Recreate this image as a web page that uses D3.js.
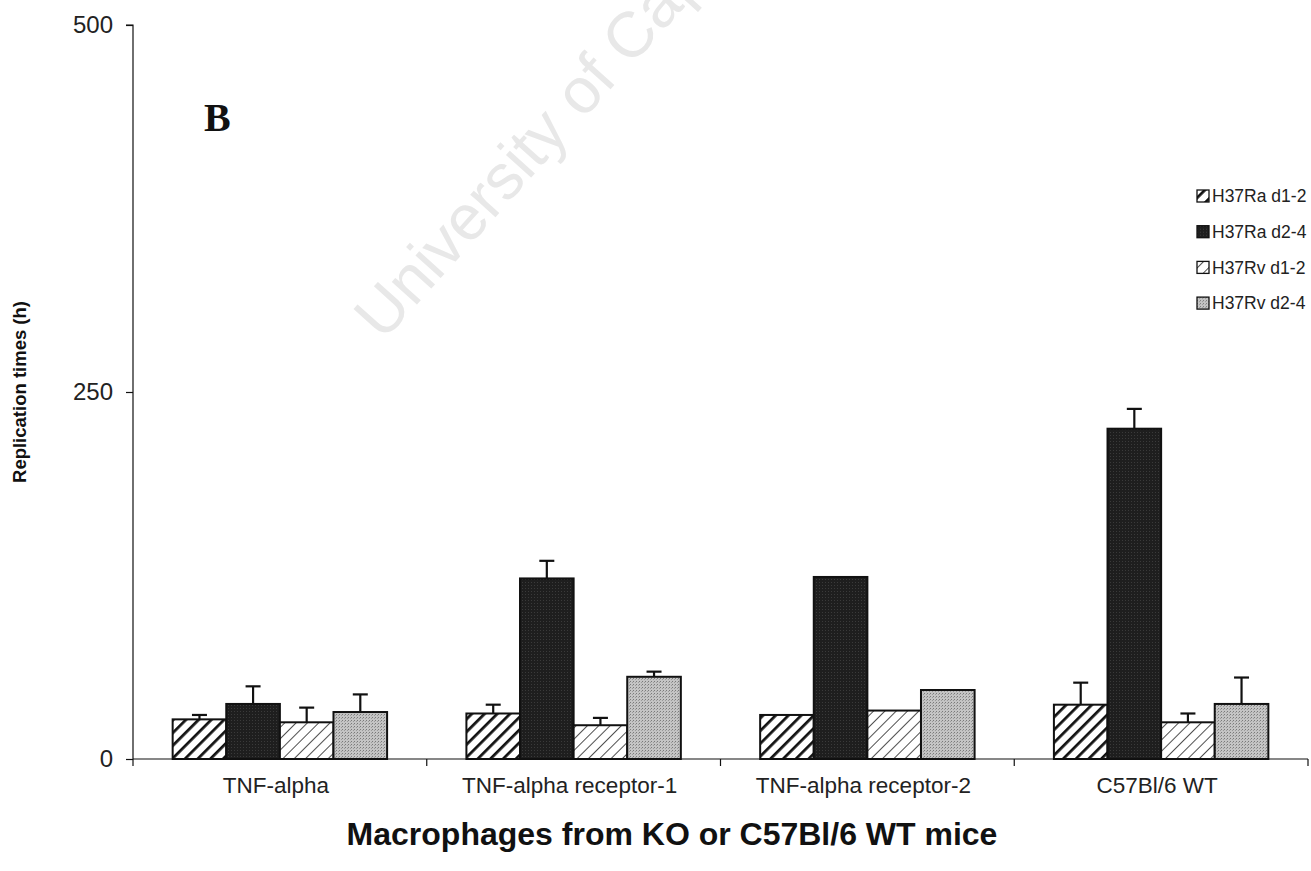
<!DOCTYPE html>
<html>
<head>
<meta charset="utf-8">
<script src="https://cdn.jsdelivr.net/npm/d3@7/dist/d3.min.js"></script>
<style>
  html, body { margin: 0; padding: 0; background: #fff; }
  svg { display: block; }
</style>
</head>
<body>
<div id="chart"></div>
<script>
// Macrophage groups along the x axis
const categories = ["TNF-alpha", "TNF-alpha receptor-1", "TNF-alpha receptor-2", "C57Bl/6 WT"];
// Strain / interval series
const seriesNames = ["H37Ra d1-2", "H37Ra d2-4", "H37Rv d1-2", "H37Rv d2-4"];

// Replication times (h) per category
const raD12 = [27, 31, 30, 37];
const raD24 = [37.5, 123, 124, 225];
const rvD12 = [25, 23, 33, 25];
const rvD24 = [32, 56, 47, 37.5];

// Upper error (h); null where no error bar is shown
const raD12Err = [3, 6, null, 15];
const raD24Err = [12, 12, null, 13.5];
const rvD12Err = [10, 5, null, 6];
const rvD24Err = [12, 3.5, null, 18];

const yTicks = [0, 250, 500];

const W = 1311, H = 871;
const margin = { left: 133, right: 3, top: 25, bottom: 112 };

const svg = d3.select("#chart").append("svg")
  .attr("width", W).attr("height", H)
  .style("font-family", "Arial, 'Liberation Sans', sans-serif");

// Fill patterns
const defs = svg.append("defs");

const pBold = defs.append("pattern")
  .attr("id", "hatchBold").attr("patternUnits", "userSpaceOnUse")
  .attr("width", 9).attr("height", 9)
  .attr("patternTransform", "rotate(45)");
pBold.append("rect").attr("width", 9).attr("height", 9).attr("fill", "#fff");
pBold.append("line").attr("x1", 0).attr("y1", 0).attr("x2", 0).attr("y2", 9)
  .attr("stroke", "#111").attr("stroke-width", 5.5);

const pThin = defs.append("pattern")
  .attr("id", "hatchThin").attr("patternUnits", "userSpaceOnUse")
  .attr("width", 8).attr("height", 8)
  .attr("patternTransform", "rotate(45)");
pThin.append("rect").attr("width", 8).attr("height", 8).attr("fill", "#fff");
pThin.append("line").attr("x1", 0).attr("y1", 0).attr("x2", 0).attr("y2", 8)
  .attr("stroke", "#222").attr("stroke-width", 1.6);

const pDark = defs.append("pattern")
  .attr("id", "darkGrid").attr("patternUnits", "userSpaceOnUse")
  .attr("width", 3).attr("height", 3);
pDark.append("rect").attr("width", 3).attr("height", 3).attr("fill", "#1e1e1e");
pDark.append("rect").attr("x", 0).attr("y", 0).attr("width", 1).attr("height", 1).attr("fill", "#3a3a3a");

const pDots = defs.append("pattern")
  .attr("id", "greyDots").attr("patternUnits", "userSpaceOnUse")
  .attr("width", 3).attr("height", 3);
pDots.append("rect").attr("width", 3).attr("height", 3).attr("fill", "#c4c4c4");
pDots.append("rect").attr("x", 0).attr("y", 0).attr("width", 1).attr("height", 1).attr("fill", "#7a7a7a");
pDots.append("rect").attr("x", 2).attr("y", 1).attr("width", 1).attr("height", 1).attr("fill", "#9a9a9a");

const fills = ["url(#hatchBold)", "url(#darkGrid)", "url(#hatchThin)", "url(#greyDots)"];

// Watermark behind the plot, running off the top edge
svg.append("text")
  .attr("x", 0).attr("y", 0)
  .attr("transform", "translate(383,342) rotate(-48)")
  .attr("font-size", 64)
  .attr("fill", "#e8e8e8")
  .text("University of Cape Town");

// Scales
const x0 = d3.scaleBand().domain(categories)
  .range([margin.left, W - margin.right])
  .paddingInner(0.27).paddingOuter(0.135);
const x1 = d3.scaleBand().domain(seriesNames).range([0, x0.bandwidth()]).padding(0);
const y = d3.scaleLinear().domain([0, 500]).range([H - margin.bottom, margin.top]);

const values = [raD12, raD24, rvD12, rvD24];
const errs = [raD12Err, raD24Err, rvD12Err, rvD24Err];

const rows = [];
categories.forEach((c, ci) => {
  seriesNames.forEach((s, si) => {
    rows.push({ cat: c, series: s, si, value: values[si][ci], err: errs[si][ci] });
  });
});

// Error bars (upper only)
const eb = svg.append("g").attr("class", "errors");
rows.filter(d => d.err != null).forEach(d => {
  const cx = x0(d.cat) + x1(d.series) + x1.bandwidth() / 2;
  eb.append("line")
    .attr("x1", cx).attr("x2", cx)
    .attr("y1", y(d.value)).attr("y2", y(d.value + d.err))
    .attr("stroke", "#111").attr("stroke-width", 2.2);
  eb.append("line")
    .attr("x1", cx - 7.5).attr("x2", cx + 7.5)
    .attr("y1", y(d.value + d.err)).attr("y2", y(d.value + d.err))
    .attr("stroke", "#111").attr("stroke-width", 2.2);
});

// Bars
svg.append("g").attr("class", "bars")
  .selectAll("rect").data(rows).join("rect")
  .attr("x", d => x0(d.cat) + x1(d.series))
  .attr("y", d => y(d.value))
  .attr("width", x1.bandwidth())
  .attr("height", d => y(0) - y(d.value))
  .attr("fill", d => fills[d.si])
  .attr("stroke", "#111")
  .attr("stroke-width", 2);

// Y axis
const yAxis = svg.append("g")
  .attr("transform", `translate(${margin.left},0)`)
  .call(d3.axisLeft(y).tickValues(yTicks).tickSize(7).tickPadding(13).tickFormat(d3.format("d")));
yAxis.select(".domain").attr("stroke", "#111").attr("stroke-width", 1.2)
  .attr("d", `M-7,${y(500)}H0V${y(0)}`);
yAxis.selectAll(".tick line").attr("stroke", "#111").attr("stroke-width", 1.2);
yAxis.selectAll(".tick text").attr("font-size", 24).attr("fill", "#222")
  .attr("font-family", "Arial, 'Liberation Sans', sans-serif");

// X axis with boundary ticks between categories
const xAxisG = svg.append("g").attr("transform", `translate(0,${y(0)})`);
xAxisG.append("line")
  .attr("x1", margin.left).attr("x2", W - margin.right)
  .attr("y1", 0).attr("y2", 0)
  .attr("stroke", "#111").attr("stroke-width", 1.2);
const step = x0.step();
const bounds = d3.range(categories.length + 1).map(i => margin.left + i * step);
xAxisG.selectAll("line.bt").data(bounds).join("line")
  .attr("class", "bt")
  .attr("x1", d => d).attr("x2", d => d)
  .attr("y1", 0).attr("y2", 7)
  .attr("stroke", "#111").attr("stroke-width", 1.2);
xAxisG.selectAll("text").data(categories).join("text")
  .attr("x", d => x0(d) + x0.bandwidth() / 2 - 4)
  .attr("y", 34)
  .attr("text-anchor", "middle")
  .attr("font-size", 22.5)
  .attr("fill", "#222")
  .text(d => d);

// Axis titles
svg.append("text")
  .attr("transform", `translate(26,${y(250)}) rotate(-90)`)
  .attr("text-anchor", "middle")
  .attr("font-size", 18.5).attr("font-weight", "bold").attr("fill", "#111")
  .text("Replication times (h)");

svg.append("text")
  .attr("x", 672).attr("y", 845)
  .attr("text-anchor", "middle")
  .attr("font-size", 32).attr("font-weight", "bold").attr("fill", "#111")
  .text("Macrophages from KO or C57Bl/6 WT mice");

// Panel letter
svg.append("text")
  .attr("x", 204).attr("y", 131)
  .attr("font-family", "'Liberation Serif', 'Times New Roman', serif")
  .attr("font-size", 40).attr("font-weight", "bold").attr("fill", "#111")
  .text("B");

// Legend
const legend = svg.append("g").attr("transform", "translate(1197,196)");
seriesNames.forEach((s, i) => {
  const g = legend.append("g").attr("transform", `translate(0,${i * 35.7})`);
  g.append("rect")
    .attr("x", 0).attr("y", -6).attr("width", 12).attr("height", 12)
    .attr("fill", fills[i]).attr("stroke", "#111").attr("stroke-width", 1.3);
  g.append("text")
    .attr("x", 15).attr("y", 0).attr("dy", "0.35em")
    .attr("font-size", 17.5).attr("fill", "#222")
    .text(s);
});
</script>
</body>
</html>
